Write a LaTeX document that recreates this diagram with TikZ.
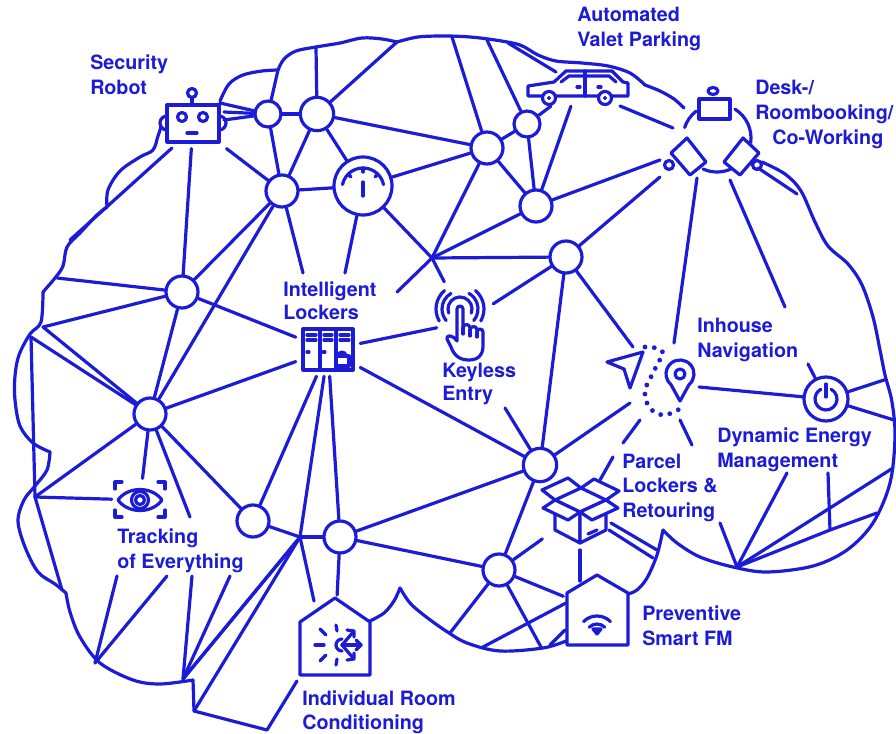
\documentclass[tikz,border=0pt]{standalone}
\usepackage{fontspec}
\setmainfont{TeX Gyre Heros}
\begin{document}
\begin{tikzpicture}[x=0.75pt,y=-0.75pt]
\definecolor{bb}{RGB}{28,28,214}
\tikzset{
  ln/.style={draw=bb, line width=2.4pt, line cap=round, line join=round},
  hubnode/.style={circle, draw=bb, line width=2.4pt, fill=white, inner sep=0pt, minimum size=#1},
  area/.style={rectangle, inner sep=0pt, minimum width=#1},
  lbl/.style={text=bb, font=\bfseries\fontsize{14.8}{17}\selectfont, anchor=base west, inner sep=0pt},
  dots/.style={draw=bb, line width=3.6pt, line cap=round, dash pattern=on 0pt off 7pt},
}
\fill[white] (0,0) rectangle (896,734);
\useasboundingbox (0,0) rectangle (896,734);

% ---------- brain outline ----------
\draw[ln] plot[smooth, tension=0.55] coordinates {(220,101) (229,84) (243,75) (262,71) (278,70)};
\draw[ln] plot[smooth, tension=0.55] coordinates {(278,70) (284,59) (296,51) (316,47) (340,43) (362,38) (382,39) (397,42)};
\draw[ln] plot[smooth, tension=0.55] coordinates {(397,42) (418,37) (445,36) (470,37) (495,40) (520,45) (538,55) (556,61) (582,63) (608,66) (630,73) (645,85)};
\draw[ln] plot[smooth, tension=0.55] coordinates {(645,85) (660,91) (674,99) (684,108)};
\draw[ln] plot[smooth, tension=0.55] coordinates {(762,162) (785,174) (801,191) (815,222) (828,246) (848,264) (862,285) (873,317) (880,350) (885,375) (892,402) (895,437) (890,483) (873,523) (847,550) (813,566) (767,572) (733,567) (700,557) (677,543) (663,530)};
\draw[ln] plot[smooth, tension=0.55] coordinates {(663,530) (657,555) (647,578) (637,590) (628,594)};
\draw[ln] plot[smooth, tension=0.55] coordinates {(566,641) (543,648) (500,651) (467,643) (446,631) (425,616) (410,603) (400,588)};
\draw[ln] plot[smooth, tension=0.55] coordinates {(400,588) (394,601) (384,613) (370,621)};
\draw[ln] (297,681) -- (267,730) -- (194,711) -- (193,680);
\draw[ln] plot[smooth, tension=0.55] coordinates {(193,680) (160,684) (133,680) (100,663) (80,637) (70,612) (66,593)};
\draw[ln] plot[smooth, tension=0.55] coordinates {(66,593) (55,584) (38,572) (25,547) (18,521) (24,500) (35,486) (47,470) (50,452)};
\draw[ln] plot[smooth, tension=0.55] coordinates {(50,452) (33,443) (20,426) (15,400) (15,376) (19,355) (30,334) (41,322) (43,292)};
\draw[ln] plot[smooth, tension=0.55] coordinates {(43,292) (55,278) (63,266) (67,247) (80,233) (97,215) (107,207)};
\draw[ln] plot[smooth, tension=0.55] coordinates {(107,207) (108,190) (120,171) (140,157) (153,150) (158,136) (161,127)};
\draw[ln] (758,168) -- (797,194);

% ---------- hubs ----------
\node[hubnode=19.5pt] (c1) at (268,114) {};
\node[hubnode=25pt] (c2) at (317,114) {};
\node[hubnode=24pt] (c3) at (282,191) {};
\node[hubnode=43.5pt] (gauge) at (363,186) {};
\node[hubnode=24pt] (c5) at (182,292) {};
\node[hubnode=24pt] (c6) at (150,414) {};
\node[hubnode=24pt] (c7) at (253,521) {};
\node[hubnode=24pt] (c8) at (340,537) {};
\node[hubnode=25pt] (c9) at (540,465) {};
\node[hubnode=24pt] (c10) at (499,570) {};
\node[hubnode=24pt] (c11) at (566,257) {};
\node[hubnode=24pt] (c12) at (536,206) {};
\node[hubnode=24pt] (c13) at (487,148) {};
\node[hubnode=19.5pt] (c14) at (527,124) {};
\node[hubnode=33pt] (power) at (826,399) {};

% ---------- icon areas ----------
\node[area=52pt, minimum height=38pt] (robot) at (193,123) {};
\node[area=80pt, minimum height=30pt] (car) at (578,86) {};
\node[area=48pt, minimum height=39pt] (lockers) at (328,350) {};
\node[area=42pt, minimum height=60pt] (keyless) at (465,322) {};
\node[area=42pt, minimum height=32pt] (eye) at (140,500) {};
\node[area=56pt, minimum height=52pt] (parcel) at (580,512) {};
\node[area=57pt, minimum height=64pt] (snow) at (335,638) {};
\node[area=50pt, minimum height=57pt] (wifi) at (597,610) {};

% ---------- junctions and free ends ----------
\coordinate (hub) at (432,258);
\coordinate (J) at (300,537);
\coordinate (J2) at (297,541);
\coordinate (rb1) at (220,103);
\coordinate (rb2) at (224,112);
\coordinate (rb3) at (224,120);
\coordinate (rb4) at (172,148);
\coordinate (ol1) at (70,240);
\coordinate (o1) at (278,70);
\coordinate (o2) at (316,47);
\coordinate (o3) at (397,42);
\coordinate (o4) at (452,37);
\coordinate (o5) at (487,40);
\coordinate (ot1) at (508,43);
\coordinate (car1) at (556,72);
\coordinate (carr) at (620,106);
\coordinate (dk1) at (673,128);
\coordinate (dk2) at (660,160);
\coordinate (dk3) at (660,177);
\coordinate (dk4) at (697,178);
\coordinate (dk5) at (730,180);
\coordinate (navtop) at (674,343);
\coordinate (nv1) at (785,307);
\coordinate (nv2) at (808,364);
\coordinate (nv3) at (692,445);
\coordinate (nv4) at (680,420);
\coordinate (nva) at (633,347);
\coordinate (nvb) at (630,403);
\coordinate (pinr) at (699,387);
\coordinate (pc1) at (640,420);
\coordinate (pc2) at (623,443);
\coordinate (pc3) at (613,457);
\coordinate (pc4) at (600,480);
\coordinate (il1) at (303,273);
\coordinate (il2) at (345,273);
\coordinate (il3) at (397,292);
\coordinate (ke1) at (505,408);
\coordinate (L1) at (43,327);
\coordinate (L1b) at (31,337);
\coordinate (L2) at (35,497);
\coordinate (L3) at (57,278);
\coordinate (Lb) at (62,590);
\coordinate (tr1) at (190,517);
\coordinate (tr2) at (117,576);
\coordinate (tr3) at (167,576);
\coordinate (tr4) at (192,576);
\coordinate (tr5) at (230,576);
\coordinate (B1) at (183,679);
\coordinate (B2) at (95,663);
\coordinate (B3) at (194,711);
\coordinate (sn1) at (314,601);
\coordinate (bx1) at (580,550);
\coordinate (wf1) at (580,581);
\coordinate (bx2) at (611,523);
\coordinate (cu1) at (657,550);
\coordinate (bx3) at (609,530);
\coordinate (cu2) at (653,558);
\coordinate (ob1) at (450,633);
\coordinate (ob2) at (541,647);
\coordinate (ob3) at (483,647);
\coordinate (wf2) at (566,603);
\coordinate (ob4) at (550,645);
\coordinate (wf3) at (565,630);
\coordinate (or1) at (884,380);
\coordinate (or2) at (894,420);
\coordinate (or3) at (893,468);
\coordinate (or4) at (877,513);
\coordinate (de1) at (787,473);
\coordinate (de2) at (828,473);
\coordinate (re1) at (720,523);
\coordinate (P1) at (737,567);
\coordinate (P2) at (830,530);

% ---------- connectors ----------
\draw[ln] (rb1) -- (c1);
\draw[ln] (rb2) -- (c1);
\draw[ln] (rb3) -- (c1);
\draw[ln] (robot) -- (c3);
\draw[ln] (robot) -- (c5);
\draw[ln] (rb4) -- (ol1);
\draw[ln] (c1) -- (c2);
\draw[ln] (c1) -- (o1);
\draw[ln] (c1) -- (c3);
\draw[ln] (c2) -- (o2);
\draw[ln] (c2) -- (o3);
\draw[ln] (c2) -- (c13);
\draw[ln] (c2) -- (gauge);
\draw[ln] (c2) -- (c3);
\draw[ln] (c3) -- (gauge);
\draw[ln] (c3) -- (c5);
\draw[ln] (c3) -- (c6);
\draw[ln] (c3) -- (il1);
\draw[ln] (gauge) -- (il2);
\draw[ln] (gauge) -- (c13);
\draw[ln] (gauge) -- (hub);
\draw[ln] (hub) -- (keyless);
\draw[ln] (hub) -- (c13);
\draw[ln] (hub) -- (c12);
\draw[ln] (hub) -- (c11);
\draw[ln] (hub) -- (il3);
\draw[ln] (c13) -- (c14);
\draw[ln] (c13) -- (c12);
\draw[ln] (c13) -- (o4);
\draw[ln] (c14) -- (o5);
\draw[ln] (c14) -- (car);
\draw[ln] (c14) -- (c12);
\draw[ln] (ot1) -- (car1);
\draw[ln] (c12) -- (car);
\draw[ln] (c12) -- (dk2);
\draw[ln] (carr) -- (dk1);
\draw[ln] (dk3) -- (c11);
\draw[ln] (dk4) -- (navtop);
\draw[ln] (dk5) -- (nv1);
\draw[ln] (c11) -- (keyless);
\draw[ln] (c11) -- (c9);
\draw[ln] (c11) -- (nva);
\draw[ln] (keyless) -- (lockers);
\draw[ln] (ke1) -- (c9);
\draw[ln] (lockers) -- (c5);
\draw[ln] (lockers) -- (c6);
\draw[ln] (lockers) -- (c9);
\draw[ln] (lockers) -- (c7);
\draw[ln] (lockers) -- (J);
\draw[ln] (lockers) -- (c8);
\draw[ln] (J) -- (c7);
\draw[ln] (J) -- (c8);
\draw[ln] (J) -- (sn1);
\draw[ln] (J) -- (B1);
\draw[ln] (J2) -- (B1);
\draw[ln] (J) -- (B3);
\draw[ln] (c6) -- (c5);
\draw[ln] (c6) -- (L1);
\draw[ln] (c6) -- (L1b);
\draw[ln] (c6) -- (eye);
\draw[ln] (c6) -- (tr1);
\draw[ln] (c6) -- (c7);
\draw[ln] (c6) -- (L2);
\draw[ln] (c5) -- (L3);
\draw[ln] (c5) -- (L1);
\draw[ln] (L2) -- (eye);
\draw[ln] (L1b) -- (L2) -- (Lb);
\draw[ln] (tr2) -- (B2);
\draw[ln] (tr3) -- (B2);
\draw[ln] (tr4) -- (B1);
\draw[ln] (tr5) -- (B1);
\draw[ln] (c8) -- (c9);
\draw[ln] (c8) -- (c10);
\draw[ln] (c8) -- (snow);
\draw[ln] (c9) -- (nvb);
\draw[ln] (c9) -- (c10);
\draw[ln] (parcel) -- (c10);
\draw[ln] (bx1) -- (wf1);
\draw[ln] (bx2) -- (cu1);
\draw[ln] (bx3) -- (cu2);
\draw[ln] (pc1) -- (pc2);
\draw[ln] (pc3) -- (pc4);
\draw[ln] (nv4) -- (nv3);
\draw[ln] (c10) -- (wifi);
\draw[ln] (c10) -- (ob1);
\draw[ln] (c10) -- (ob2);
\draw[ln] (ob3) -- (wf2);
\draw[ln] (ob4) -- (wf3);
\draw[ln] (pinr) -- (power);
\draw[ln] (power) -- (nv2);
\draw[ln] (power) -- (or1);
\draw[ln] (power) -- (or2);
\draw[ln] (de1) -- (P1);
\draw[ln] (de2) -- (P2);
\draw[ln] (re1) -- (P1);
\draw[ln] (P1) -- (P2) -- (or4);
\draw[ln] (P1) -- (or3);

% ---------- security robot ----------
\draw[ln] (167,116) arc[start angle=-90, end angle=-270, radius=7];
\draw[ln] (219,116) arc[start angle=-90, end angle=90, radius=7];
\draw[ln, fill=white] (167,105) rectangle (219,142);
\draw[ln] (182,117) circle[radius=4.5];
\draw[ln] (203,117) circle[radius=4.5];
\draw[ln] (187,133) -- (197,133);
\draw[ln] (192,105) -- (192,98);
\draw[ln] (192,93) circle[radius=4.5];

% ---------- car ----------
\draw[ln, fill=white] (528,96) -- (528,86) -- (554,82) -- (566,71) -- (612,71) -- (623,82) -- (628,83) -- (628,96) -- cycle;
\draw[ln] (561,82) -- (569,76) -- (609,76) -- (616,82);
\draw[ln] (585,71) -- (585,96);
\draw[ln] (577,87) -- (580,87);
\draw[ln] (598,87) -- (601,87);
\draw[ln, fill=white] (549,98) circle[radius=6.5];
\draw[bb, fill=bb] (549,98) circle[radius=1.8];
\draw[ln, fill=white] (605,98) circle[radius=6.5];
\draw[bb, fill=bb] (605,98) circle[radius=1.8];

% ---------- desk booking ----------
\draw[ln] (717,138) ++(-128:34) arc[start angle=-128, end angle=-162, radius=34];
\draw[ln] (717,138) ++(-58:34) arc[start angle=-58, end angle=8, radius=34];
\draw[ln] (717,138) ++(114:34) arc[start angle=114, end angle=64, radius=34];
\draw[ln, fill=white] (699,99) rectangle (730,119);
\draw[ln] (713,91) ellipse[x radius=5, y radius=3.5];
\draw[ln, fill=white] (671,153) -- (687,138) -- (706,162) -- (690,175) -- cycle;
\draw[ln, fill=white] (759,153) -- (743,138) -- (724,162) -- (740,175) -- cycle;
\draw[ln] (669,165) circle[radius=4.5];
\draw[ln] (757,165) circle[radius=4.5];

% ---------- gauge ----------
\draw[ln] (363,189) ++(-168:21) arc[start angle=-168, end angle=-12, radius=21];
\draw[ln] (363,168) -- (363,172);
\draw[ln] (348,174) -- (351,177);
\draw[ln] (378,174) -- (375,177);
\draw[ln] (363,182) -- (363,196);

% ---------- intelligent lockers ----------
\draw[ln, fill=white] (303,329) rectangle (353,370);
\draw[ln] (320,329) -- (320,370);
\draw[ln] (336,329) -- (336,370);
\foreach \yy in {335,340} {
  \draw[ln] (307,\yy) -- (316,\yy);
  \draw[ln] (324,\yy) -- (332,\yy);
  \draw[ln] (340,\yy) -- (349,\yy);
}
\draw[ln] (307,352) -- (309,352);
\draw[ln] (323,352) -- (325,352);
\draw[ln] (338,356) arc[start angle=180, end angle=360, radius=4];
\draw[ln, fill=white] (336,356) rectangle (349,366);

% ---------- keyless entry ----------
\draw[ln] (460,309) ++(20:12) arc[start angle=20, end angle=-200, radius=12];
\draw[ln] (460,309) ++(40:18) arc[start angle=40, end angle=-60, radius=18];
\draw[ln] (460,309) ++(-120:18) arc[start angle=-120, end angle=-220, radius=18];
\draw[ln] (460,309) ++(30:24) arc[start angle=30, end angle=-50, radius=24];
\draw[ln] (460,309) ++(-130:24) arc[start angle=-130, end angle=-210, radius=24];
\draw[ln, fill=white] (457,341) -- (457,309) arc[start angle=180, end angle=360, radius=3]
  -- (463,328) arc[start angle=180, end angle=360, radius=3.5]
  -- (470,330) arc[start angle=180, end angle=360, radius=3.5]
  -- (477,332) arc[start angle=180, end angle=360, radius=3]
  -- (483,346) .. controls (483,355) and (478,360) .. (469,360)
  .. controls (459,360) and (454,355) .. (451,347) -- (447,339)
  .. controls (446,335) and (452,334) .. (457,341);
\draw[ln] (463,328) -- (463,334);
\draw[ln] (470,330) -- (470,336);
\draw[ln] (477,332) -- (477,337);

% ---------- tracking eye ----------
\draw[ln] (115,489) -- (115,482) -- (122,482);
\draw[ln] (158,482) -- (165,482) -- (165,489);
\draw[ln] (115,510) -- (115,517) -- (122,517);
\draw[ln] (158,517) -- (165,517) -- (165,510);
\draw[ln] (118,500) .. controls (128,486) and (152,486) .. (162,500) .. controls (152,514) and (128,514) .. (118,500);
\draw[ln] (140,500) circle[radius=8.5];
\draw[ln] (140,500) circle[radius=4.5];

% ---------- navigation ----------
\draw[ln, fill=white] (643,352) -- (607,362) -- (624,369) -- (630,388) -- cycle;
\draw[dots] plot[smooth, tension=0.6] coordinates {(645,347) (656,348) (663,353) (658,363) (652,375) (646,387) (645,397) (648,405) (654,412) (664,415) (674,412) (681,408)};
\draw[ln, fill=white] (680,401) -- (689,384.7) arc[start angle=50, end angle=-230, radius=14] -- cycle;
\draw[ln] (680,374) circle[radius=5];

% ---------- power ----------
\draw[ln] (826,399) ++(-62:11) arc[start angle=-62, end angle=242, radius=11];
\draw[ln] (826,384) -- (826,397);

% ---------- parcel box ----------
\draw[ln, fill=white] (555,500) -- (580,512) -- (580,543) -- (555,530) -- cycle;
\draw[ln, fill=white] (580,512) -- (606,500) -- (606,530) -- (580,543) -- cycle;
\draw[ln, fill=white] (555,500) -- (581,488) -- (568,478) -- (542,490) -- cycle;
\draw[ln, fill=white] (581,488) -- (606,500) -- (619,491) -- (594,479) -- cycle;
\draw[ln, fill=white] (555,500) -- (580,512) -- (568,520) -- (543,508) -- cycle;
\draw[ln, fill=white] (580,512) -- (606,500) -- (618,508) -- (592,520) -- cycle;
\draw[ln] (588,534) -- (597,530);

% ---------- room conditioning house ----------
\draw[ln, fill=white] (300,675) -- (300,622) -- (335,598) -- (370,622) -- (370,675) -- cycle;
\draw[ln] (342,639) arc[start angle=-90, end angle=-270, radius=6];
\draw[ln] (315,645) -- (324,645);
\draw[ln] (320,629) -- (326,635);
\draw[ln] (320,661) -- (326,655);
\draw[ln] (336,625) -- (337,631);
\draw[ln] (336,665) -- (337,659);
\draw[ln] (342,645) -- (361,645);
\draw[ln] (356,640) -- (361,645) -- (356,650);
\draw[ln] (342,645) -- (354,631);
\draw[ln] (347,630) -- (354,631) -- (354,637);
\draw[ln] (342,645) -- (354,659);
\draw[ln] (347,660) -- (354,659) -- (354,653);

% ---------- smart FM house ----------
\draw[ln, fill=white] (567,645) -- (567,593) -- (597,575) -- (628,593) -- (628,645) -- cycle;
\draw[ln] (597,635) ++(-45:19) arc[start angle=-45, end angle=-135, radius=19];
\draw[ln] (597,635) ++(-45:11) arc[start angle=-45, end angle=-135, radius=11];
\draw[ln, fill=bb] (593,629) -- (601,629) -- (597,634) -- cycle;

% ---------- labels ----------
\node[lbl] at (90,70) {Security};
\node[lbl] at (90,95) {Robot};
\node[lbl] at (577,22) {Automated};
\node[lbl] at (577,47) {Valet Parking};
\node[lbl] at (755,95) {Desk-/};
\node[lbl] at (755,120) {Roombooking/};
\node[lbl] at (772,145) {Co-Working};
\node[lbl] at (283,297) {Intelligent};
\node[lbl] at (283,320) {Lockers};
\node[lbl] at (442,377) {Keyless};
\node[lbl] at (442,400) {Entry};
\node[lbl] at (697,332) {Inhouse};
\node[lbl] at (697,357) {Navigation};
\node[lbl] at (622,468) {Parcel};
\node[lbl] at (622,492) {Lockers \&};
\node[lbl] at (622,517) {Retouring};
\node[lbl] at (717,442) {Dynamic Energy};
\node[lbl] at (717,467) {Management};
\node[lbl] at (117,543) {Tracking};
\node[lbl] at (117,568) {of Everything};
\node[lbl] at (642,620) {Preventive};
\node[lbl] at (642,645) {Smart FM};
\node[lbl] at (302,705) {Individual Room};
\node[lbl] at (302,729) {Conditioning};
\end{tikzpicture}
\end{document}
